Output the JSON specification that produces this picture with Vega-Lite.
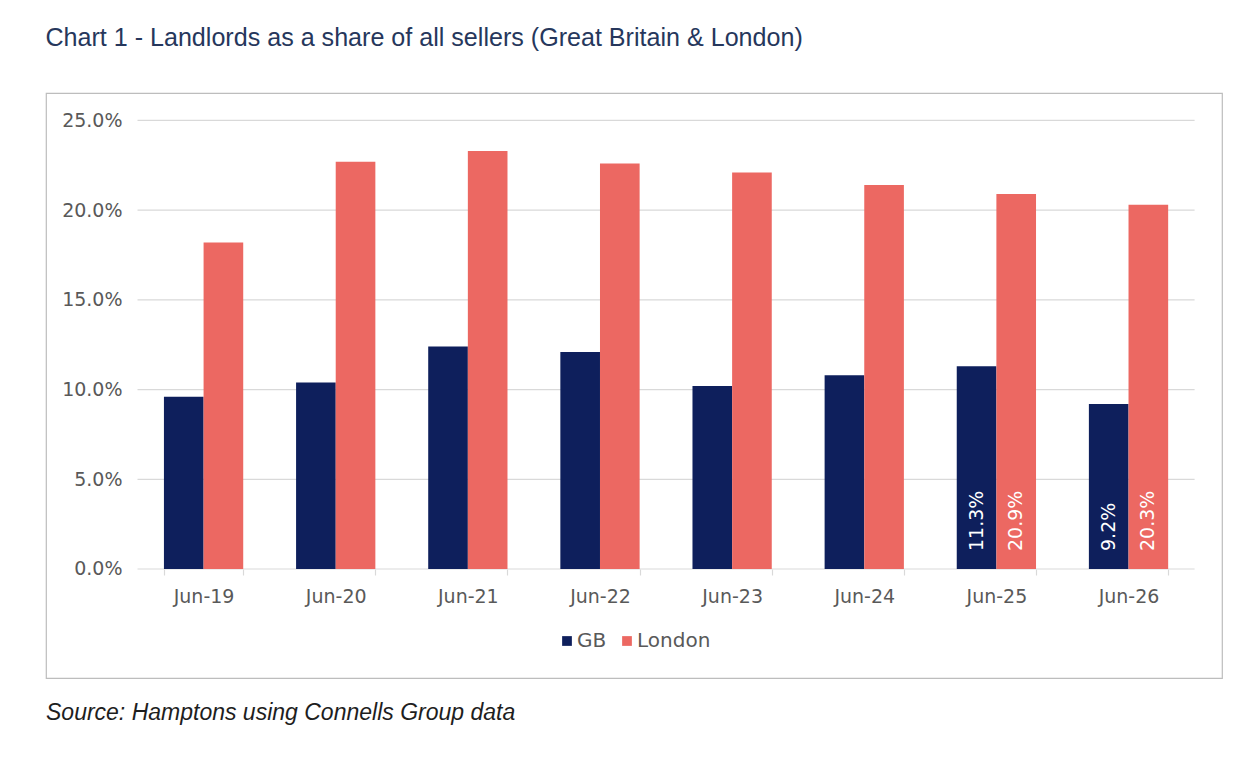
{
  "$schema": "https://vega.github.io/schema/vega-lite/v6.json",
  "background": "white",
  "padding": {"left": 45, "top": 25, "right": 37, "bottom": 30},
  "title": {
    "text": "Chart 1 - Landlords as a share of all sellers (Great Britain & London)",
    "anchor": "start",
    "font": "Liberation Sans",
    "fontSize": 25.1,
    "fontWeight": "normal",
    "color": "#26375c",
    "offset": 41.5
  },
  "datasets": {
    "shares": [
      {"period": "Jun-19", "series": "GB", "share": 0.096, "labelled": false},
      {"period": "Jun-19", "series": "London", "share": 0.182, "labelled": false},
      {"period": "Jun-20", "series": "GB", "share": 0.104, "labelled": false},
      {"period": "Jun-20", "series": "London", "share": 0.227, "labelled": false},
      {"period": "Jun-21", "series": "GB", "share": 0.124, "labelled": false},
      {"period": "Jun-21", "series": "London", "share": 0.233, "labelled": false},
      {"period": "Jun-22", "series": "GB", "share": 0.121, "labelled": false},
      {"period": "Jun-22", "series": "London", "share": 0.226, "labelled": false},
      {"period": "Jun-23", "series": "GB", "share": 0.102, "labelled": false},
      {"period": "Jun-23", "series": "London", "share": 0.221, "labelled": false},
      {"period": "Jun-24", "series": "GB", "share": 0.108, "labelled": false},
      {"period": "Jun-24", "series": "London", "share": 0.214, "labelled": false},
      {"period": "Jun-25", "series": "GB", "share": 0.113, "labelled": true},
      {"period": "Jun-25", "series": "London", "share": 0.209, "labelled": true},
      {"period": "Jun-26", "series": "GB", "share": 0.092, "labelled": true},
      {"period": "Jun-26", "series": "London", "share": 0.203, "labelled": true}
    ],
    "gridlines": [
      {"level": 0}, {"level": 0.05}, {"level": 0.1},
      {"level": 0.15}, {"level": 0.2}, {"level": 0.25}
    ]
  },
  "vconcat": [
    {
      "width": 1176,
      "height": 585,
      "title": {
        "text": "Source: Hamptons using Connells Group data",
        "orient": "bottom",
        "anchor": "start",
        "font": "Liberation Sans",
        "fontStyle": "italic",
        "fontSize": 23,
        "fontWeight": "normal",
        "color": "#1e1e1e",
        "offset": 24
      },
      "layer": [
        {
          "data": {"name": "gridlines"},
          "mark": {"type": "rule", "color": "#d9d9d9", "strokeWidth": 1.2},
          "encoding": {
            "y": {
              "field": "level",
              "type": "quantitative",
              "axis": {"values": [0, 0.05, 0.1, 0.15, 0.2, 0.25], "format": ".1%"}
            },
            "x": {"datum": "Jun-19", "type": "nominal", "bandPosition": -0.3333},
            "x2": {"datum": "Jun-26", "bandPosition": 1.3333}
          }
        },
        {
          "data": {"name": "shares"},
          "mark": {"type": "bar"},
          "encoding": {
            "x": {
              "field": "period",
              "type": "nominal",
              "scale": {
                "domain": ["Jun-19", "Jun-20", "Jun-21", "Jun-22", "Jun-23", "Jun-24", "Jun-25", "Jun-26"],
                "paddingInner": 0.4,
                "paddingOuter": 0.65,
                "align": 0.6866
              }
            },
            "xOffset": {
              "field": "series",
              "type": "nominal",
              "scale": {"domain": ["GB", "London"], "paddingInner": 0, "paddingOuter": 0}
            },
            "y": {
              "field": "share",
              "type": "quantitative",
              "scale": {"domain": [-0.06076, 0.2653], "nice": false, "zero": false},
              "axis": {"values": [0, 0.05, 0.1, 0.15, 0.2, 0.25], "format": ".1%"}
            },
            "y2": {"datum": 0},
            "color": {
              "field": "series",
              "type": "nominal",
              "scale": {"domain": ["GB", "London"], "range": ["#0e1f5c", "#ec6862"]},
              "legend": {
                "orient": "none",
                "legendX": 511,
                "legendY": 538,
                "direction": "horizontal",
                "title": null,
                "symbolType": "square",
                "symbolSize": 95,
                "symbolStrokeWidth": 0,
                "labelFont": "DejaVu Sans",
                "labelFontSize": 20,
                "labelColor": "#595959",
                "labelOffset": 0,
                "columnPadding": 10,
                "padding": 0
              }
            }
          }
        },
        {
          "data": {"name": "shares"},
          "transform": [{"filter": "datum.labelled"}],
          "mark": {
            "type": "text",
            "angle": 270,
            "align": "left",
            "baseline": "middle",
            "dx": 18,
            "color": "white",
            "font": "DejaVu Sans",
            "fontSize": 19
          },
          "encoding": {
            "x": {"field": "period", "type": "nominal"},
            "xOffset": {"field": "series", "type": "nominal"},
            "y": {
              "datum": 0,
              "type": "quantitative",
              "axis": {"values": [0, 0.05, 0.1, 0.15, 0.2, 0.25], "format": ".1%"}
            },
            "text": {"field": "share", "type": "quantitative", "format": ".1%"}
          }
        }
      ]
    }
  ],
  "config": {
    "view": {"stroke": "#bdbdbd", "strokeWidth": 1.2},
    "axis": {"title": null},
    "axisX": {
      "domain": false,
      "grid": false,
      "tickBand": "extent",
      "tickSize": 6,
      "tickColor": "#d9d9d9",
      "tickWidth": 1.2,
      "offset": -109,
      "labelPadding": 12,
      "labelAngle": 0,
      "labelFont": "DejaVu Sans",
      "labelFontSize": 19,
      "labelColor": "#595959"
    },
    "axisY": {
      "grid": false,
      "domain": false,
      "ticks": false,
      "offset": -90,
      "labelPadding": 14,
      "labelFont": "DejaVu Sans",
      "labelFontSize": 19,
      "labelColor": "#595959"
    }
  }
}
